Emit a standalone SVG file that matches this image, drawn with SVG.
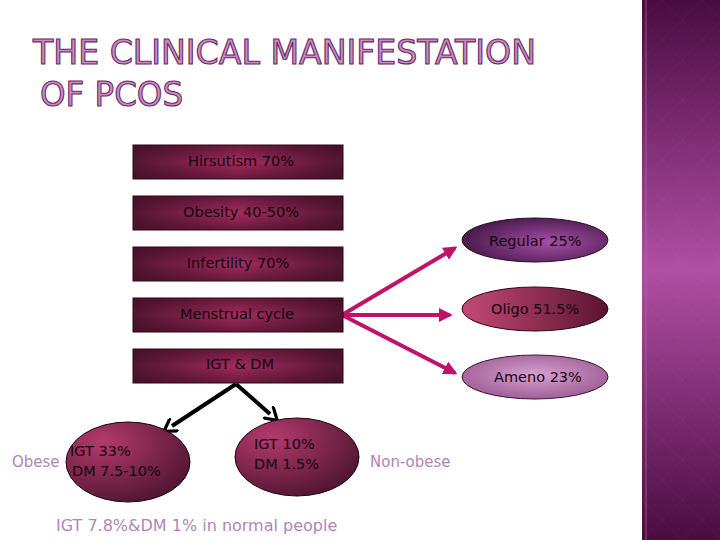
<svg xmlns="http://www.w3.org/2000/svg" width="720" height="540" viewBox="0 0 720 540">
<defs>
<style>
.title{font-family:"DejaVu Sans",sans-serif;font-size:33px;fill:#c98cc2;stroke:#6a2a66;stroke-width:1.1;}
.bt{font-family:"DejaVu Sans",sans-serif;font-size:14.5px;fill:#140610;text-anchor:middle;}
.et{font-family:"DejaVu Sans",sans-serif;font-size:14.5px;fill:#140610;}
.lt{font-family:"DejaVu Sans",sans-serif;font-size:15px;fill:#b285b6;}
.box{fill:url(#boxg);stroke:#2a0614;stroke-width:1;}
.box2{fill:url(#boxv);opacity:0.55;}
.pk{stroke:#c0126a;stroke-width:4;fill:none;marker-end:url(#pa);}
.bk{stroke:#000;stroke-width:4;fill:none;marker-end:url(#ba);}
</style>
<linearGradient id="boxg" x1="0" y1="0" x2="1" y2="0">
<stop offset="0" stop-color="#521630"/>
<stop offset="0.5" stop-color="#a42c5e"/>
<stop offset="1" stop-color="#521630"/>
</linearGradient>
<linearGradient id="boxv" x1="0" y1="0" x2="0" y2="1">
<stop offset="0" stop-color="#3a0a20"/>
<stop offset="0.5" stop-color="#3a0a20" stop-opacity="0"/>
<stop offset="1" stop-color="#3a0a20"/>
</linearGradient>
<radialGradient id="regg" cx="0.6" cy="0.55" r="0.6">
<stop offset="0" stop-color="#a650a8"/>
<stop offset="1" stop-color="#4a1a4c"/>
</radialGradient>
<linearGradient id="olig" x1="0" y1="0" x2="1" y2="0">
<stop offset="0" stop-color="#c44a74"/>
<stop offset="1" stop-color="#5c1430"/>
</linearGradient>
<radialGradient id="ameg" cx="0.5" cy="0.45" r="0.6">
<stop offset="0" stop-color="#d8a0d0"/>
<stop offset="1" stop-color="#9a5a92"/>
</radialGradient>
<radialGradient id="igtg" cx="0.3" cy="0.25" r="0.8">
<stop offset="0" stop-color="#b43a6c"/>
<stop offset="1" stop-color="#521632"/>
</radialGradient>
<linearGradient id="strip" x1="0" y1="0" x2="0" y2="1">
<stop offset="0" stop-color="#4a0c40"/>
<stop offset="0.5" stop-color="#b04ea4"/>
<stop offset="1" stop-color="#4a0c40"/>
</linearGradient>
<pattern id="dia" width="40" height="40" patternUnits="userSpaceOnUse" x="642">
<path d="M20 0 L40 20 L20 40 L0 20 Z" fill="none" stroke="#ffffff" stroke-opacity="0.03" stroke-width="1"/>
</pattern>
<marker id="pa" viewBox="0 0 10 10" refX="8" refY="5" markerWidth="3.5" markerHeight="3.5" orient="auto">
<path d="M0 0 L10 5 L0 10 Z" fill="#c0126a"/>
</marker>
<marker id="ba" viewBox="0 0 10 10" refX="2" refY="5" markerWidth="4" markerHeight="4" orient="auto">
<path d="M0 0 L8 5 L0 10" fill="none" stroke="#000" stroke-width="2"/>
</marker>
</defs>
<rect width="720" height="540" fill="#ffffff"/>
<g id="strip-bg">
<rect x="642" y="0" width="78" height="540" fill="url(#strip)"/>
<rect x="642" y="0" width="78" height="540" fill="url(#dia)"/>
<rect x="645" y="0" width="2" height="540" fill="#c060b0" opacity="0.35"/>
</g>
<g id="title">
<text class="title" x="33" y="64" textLength="503" lengthAdjust="spacingAndGlyphs">THE CLINICAL MANIFESTATION</text>
<text class="title" x="40" y="106" textLength="143" lengthAdjust="spacingAndGlyphs">OF PCOS</text>
</g>
<g id="connectors">
<line class="pk" x1="342" y1="315" x2="455" y2="248"/>
<line class="pk" x1="342" y1="315" x2="450" y2="315"/>
<line class="pk" x1="342" y1="315" x2="455" y2="373"/>
<line class="bk" x1="236" y1="384" x2="172" y2="426"/>
<line class="bk" x1="236" y1="384" x2="270" y2="414"/>
</g>
<g id="hirsutism"><rect class="box" x="133" y="145" width="210" height="34"/><rect class="box2" x="133" y="145" width="210" height="34"/><text class="bt" x="241" y="166">Hirsutism 70%</text></g>
<g id="obesity"><rect class="box" x="133" y="196" width="210" height="34"/><rect class="box2" x="133" y="196" width="210" height="34"/><text class="bt" x="241" y="217">Obesity 40-50%</text></g>
<g id="infertility"><rect class="box" x="133" y="247" width="210" height="34"/><rect class="box2" x="133" y="247" width="210" height="34"/><text class="bt" x="238" y="268">Infertility 70%</text></g>
<g id="menstrual"><rect class="box" x="133" y="298" width="210" height="34"/><rect class="box2" x="133" y="298" width="210" height="34"/><text class="bt" x="237" y="319">Menstrual cycle</text></g>
<g id="igtdm"><rect class="box" x="133" y="349" width="210" height="34"/><rect class="box2" x="133" y="349" width="210" height="34"/><text class="bt" x="240" y="369">IGT &amp; DM</text></g>
<g id="regular"><ellipse cx="535" cy="240" rx="73" ry="22" fill="url(#regg)" stroke="#2a0a2a" stroke-width="1"/><text class="et" x="489" y="246">Regular 25%</text></g>
<g id="oligo"><ellipse cx="535" cy="309" rx="73" ry="22" fill="url(#olig)" stroke="#2a0614" stroke-width="1"/><text class="et" x="491" y="314">Oligo 51.5%</text></g>
<g id="ameno"><ellipse cx="535" cy="377" rx="73" ry="22" fill="url(#ameg)" stroke="#3a1436" stroke-width="1"/><text class="et" x="494" y="382">Ameno 23%</text></g>
<g id="obese-node"><ellipse cx="128" cy="462" rx="62" ry="40" fill="url(#igtg)" stroke="#1a0410" stroke-width="1"/><text class="et" x="70" y="456">IGT 33%</text><text class="et" x="72" y="476">DM 7.5-10%</text></g>
<g id="nonobese-node"><ellipse cx="297" cy="457" rx="62" ry="39" fill="url(#igtg)" stroke="#1a0410" stroke-width="1"/><text class="et" x="254" y="449">IGT 10%</text><text class="et" x="254" y="469">DM 1.5%</text></g>
<g id="labels">
<text class="lt" x="12" y="467">Obese</text>
<text class="lt" x="370" y="467">Non-obese</text>
<text class="lt" x="56" y="531" style="font-size:16px">IGT 7.8%&amp;DM 1% in normal people</text>
</g>
</svg>
